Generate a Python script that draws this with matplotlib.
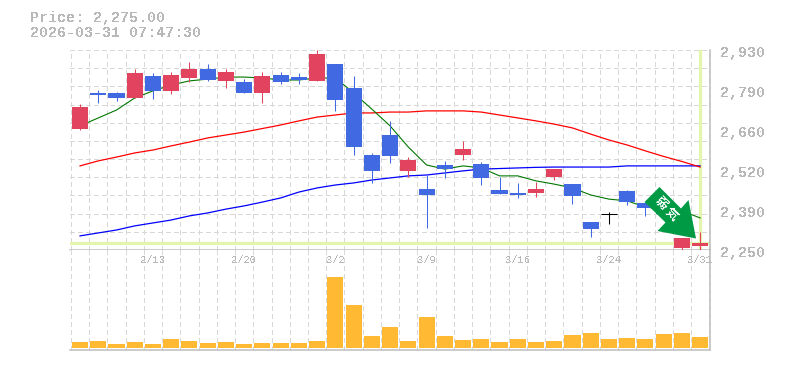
import matplotlib
matplotlib.use('Agg')
import matplotlib.pyplot as plt
import numpy as np
from matplotlib.patches import Polygon

plt.rcParams['font.family'] = ['Liberation Mono', 'DejaVu Sans Mono']
plt.rcParams['text.antialiased'] = False

opens = [2661, 2784, 2784, 2767, 2842, 2791, 2835, 2865, 2825, 2821, 2784, 2845, 2838, 2825, 2882, 2801, 2573, 2641,
         2519, 2457, 2539, 2573, 2542, 2454, 2444, 2444, 2498, 2474, 2345, 2372, 2451, 2410, 2393, 2257, 2264]
highs = [2746, 2794, 2787, 2865, 2852, 2855, 2889, 2882, 2865, 2831, 2855, 2855, 2852, 2930, 2882, 2842, 2580, 2689,
         2566, 2505, 2553, 2621, 2549, 2498, 2478, 2481, 2525, 2474, 2345, 2379, 2454, 2410, 2400, 2291, 2311]
lows = [2658, 2750, 2757, 2767, 2763, 2780, 2821, 2825, 2801, 2784, 2750, 2814, 2814, 2825, 2723, 2573, 2478, 2546,
        2498, 2325, 2495, 2556, 2471, 2440, 2427, 2430, 2488, 2406, 2294, 2338, 2403, 2366, 2366, 2247, 2250]
closes = [2736, 2777, 2767, 2852, 2791, 2845, 2865, 2828, 2855, 2784, 2842, 2821, 2828, 2916, 2760, 2600, 2519, 2570,
          2556, 2437, 2525, 2593, 2495, 2440, 2437, 2457, 2525, 2434, 2321, 2372, 2413, 2393, 2372, 2291, 2275]
ma_short = [2672, 2699, 2726, 2767, 2791, 2811, 2825, 2831, 2838, 2838, 2835, 2828, 2828, 2835, 2835, 2784, 2729, 2672,
            2600, 2539, 2525, 2536, 2529, 2502, 2502, 2485, 2474, 2461, 2437, 2423, 2417, 2396, 2389, 2383, 2359]
ma_mid = [2536, 2553, 2566, 2580, 2590, 2604, 2617, 2631, 2641, 2651, 2663, 2675, 2689, 2702, 2709, 2716, 2716, 2719,
          2719, 2723, 2723, 2723, 2719, 2709, 2699, 2689, 2678, 2665, 2644, 2624, 2607, 2587, 2568, 2551, 2532]
ma_long = [2298, 2308, 2318, 2332, 2342, 2352, 2366, 2376, 2389, 2400, 2413, 2427, 2447, 2461, 2471, 2478, 2488, 2495,
           2502, 2505, 2512, 2519, 2525, 2527, 2529, 2531, 2532, 2532, 2532, 2532, 2536, 2536, 2536, 2536, 2536]
volumes = [6, 7, 4, 6, 4, 9, 7, 5, 6, 4, 5, 5, 5, 7, 71, 43, 12, 21,
           7, 31, 12, 8, 9, 6, 9, 6, 7, 13, 15, 9, 10, 9, 14, 15, 11]

price_ticks = [2250, 2386, 2522, 2658, 2794, 2930]
price_labels = ['2,250', '2,390', '2,520', '2,660', '2,790', '2,930']
date_ticks = [4, 9, 14, 19, 24, 29, 34]
date_labels = ['2/13', '2/20', '3/2', '3/9', '3/16', '3/24', '3/31']
last_price = 2275
last_time = '2026-03-31 07:47:30'
arrow_text = '弱気'

W, H = 785, 370
RED = '#e2445f'
BLUE = '#4169e1'
GRID = '#d8d8d8'
EDGE = '#bdbdbd'
TEXT = '#b8b8b8'
PALE = '#e4f5ae'


def box(left, top, right, bottom):
    return [left / W, 1 - bottom / H, (right - left) / W, (bottom - top) / H]


fig = plt.figure(figsize=(W / 100, H / 100), dpi=100)
ax = fig.add_axes(box(70, 50, 710, 250))
ax_vol = fig.add_axes(box(70, 250, 710, 350))

n = len(closes)
x = np.arange(n)

for a in (ax, ax_vol):
    a.set_xlim(-0.55, n - 0.46)
    a.set_xticks(np.arange(n + 1) - 0.5)
    a.tick_params(length=0, labelbottom=False, labelleft=False)
    a.grid(axis='x', color=GRID, lw=0.75, ls=(0, (4, 3)), zorder=0, antialiased=False)
    a.set_axisbelow(True)
    a.spines['top'].set_visible(False)
    a.spines['left'].set_visible(False)
    a.spines['right'].set_color(EDGE)
    a.spines['bottom'].set_color(EDGE)
    a.spines['right'].set_linewidth(1.1)
    a.spines['bottom'].set_linewidth(1.1)

ax.set_ylim(2250, 2930)
ax.set_yticks(np.linspace(2250, 2930, 12))
ax.grid(axis='y', color=GRID, lw=0.75, ls=(0, (4, 3)), zorder=0, antialiased=False)

# бледные линии последней цены и времени
ax.axhline(last_price, color=PALE, lw=2.4, zorder=1)
ax.axvline(x[-1], color=PALE, lw=2.4, zorder=1)

ax.plot(x, ma_long, color='#0000ff', lw=0.9, zorder=2)
ax.plot(x, ma_mid, color='#ff0000', lw=0.9, zorder=2)
ax.plot(x, ma_short, color='#007800', lw=0.8, zorder=2)

for i in range(n):
    if closes[i] > opens[i]:
        col = RED
    elif closes[i] < opens[i]:
        col = BLUE
    else:
        col = 'black'
    ax.vlines(x[i], lows[i], highs[i], color=col, lw=0.75, zorder=3, clip_on=False)
    if col == 'black':
        ax.hlines(closes[i], x[i] - 0.44, x[i] + 0.44, color=col, lw=0.75, zorder=3)
    else:
        ax.bar(x[i], abs(closes[i] - opens[i]), bottom=min(opens[i], closes[i]), width=0.88,
               color=col, zorder=3, clip_on=False, antialiased=False)

ax_vol.bar(x, volumes, width=0.88, color='#ffb933', zorder=2, antialiased=False)
ax_vol.set_ylim(-2, 98)

for p, lab in zip(price_ticks, price_labels):
    ax.annotate(lab, xy=(1, p), xycoords=ax.get_yaxis_transform(), xytext=(10, -3),
                textcoords='offset pixels', color=TEXT, fontsize=10.8, fontweight='bold',
                va='center', ha='left', annotation_clip=False)

for i, lab in zip(date_ticks, date_labels):
    ax_vol.annotate(lab, xy=(i, 1), xycoords=ax_vol.get_xaxis_transform(), xytext=(0, -10),
                    textcoords='offset pixels', color=TEXT, fontsize=7.6, va='center', ha='center',
                    annotation_clip=False)

# слой в пикселях картинки: заголовок и стрелка
top = fig.add_axes([0, 0, 1, 1], zorder=5)
top.set_xlim(0, W)
top.set_ylim(H, 0)
top.axis('off')
top.text(30, 18, f'Price: {last_price:,.2f}', color=TEXT, fontsize=10.8, fontweight='bold', va='center', ha='left')
top.text(30, 33, last_time, color=TEXT, fontsize=10.8, fontweight='bold', va='center', ha='left')

arrow_px = [(659.5, 187), (681, 208.5), (688.5, 200), (696, 238.5), (657.5, 231), (665.5, 222.5), (644.5, 202)]
top.add_patch(Polygon(arrow_px, closed=True, facecolor='#009944', edgecolor='none'))
label_px = [(661, 203), (671.5, 214)]
for ch, (tx, ty) in zip(arrow_text, label_px):
    top.text(tx, ty, ch, color='white', fontsize=9, fontweight='bold', rotation=-45,
             rotation_mode='anchor', va='center', ha='center', family=['Noto Sans CJK JP', 'DejaVu Sans'])

fig.savefig('out.png', dpi=100)
